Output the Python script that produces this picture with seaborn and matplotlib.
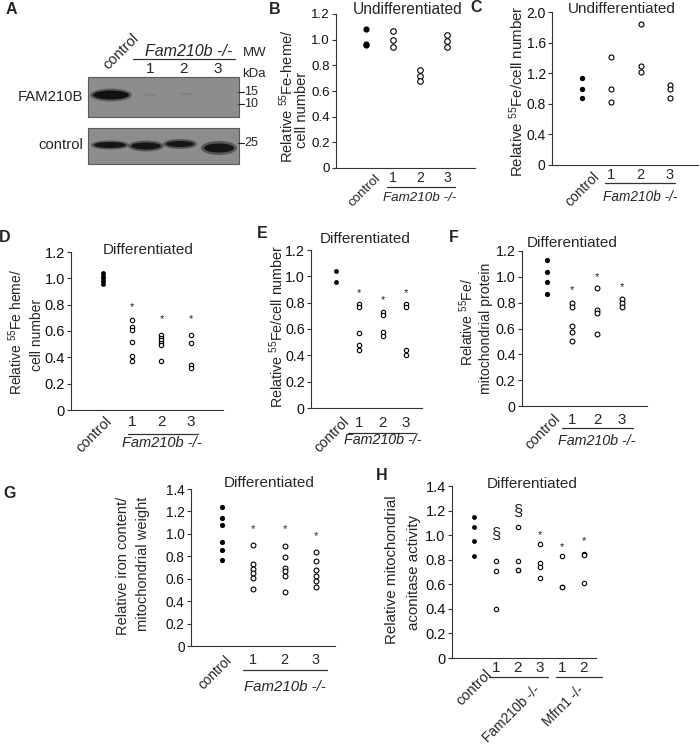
import numpy as np
import pandas as pd
import matplotlib
matplotlib.use("Agg")
import matplotlib.pyplot as plt
import seaborn as sns
from matplotlib.patches import Rectangle, Ellipse

# ---------------- data ----------------
B_ctrl = [1.08, 0.97, 0.96]
B_ko = [[1.07, 1.00, 0.94], [0.76, 0.72, 0.68], [1.04, 0.99, 0.94]]

C_ctrl = [1.14, 0.99, 0.88]
C_ko = [[1.41, 0.99, 0.83], [1.84, 1.30, 1.22], [1.04, 0.99, 0.88]]

D_ctrl = [1.04, 1.02, 1.00, 0.98, 0.96]
D_ko = [[0.68, 0.63, 0.61, 0.52, 0.41, 0.37],
        [0.57, 0.55, 0.53, 0.51, 0.49, 0.37],
        [0.57, 0.51, 0.34, 0.32]]
D_star = [0.78, 0.69, 0.69]

E_ctrl = [1.04, 0.96]
E_ko = [[0.79, 0.77, 0.57, 0.48, 0.44],
        [0.73, 0.71, 0.58, 0.55],
        [0.79, 0.77, 0.44, 0.40]]
E_star = [0.875, 0.82, 0.875]

F_ctrl = [1.13, 1.04, 0.96, 0.87]
F_ko = [[0.80, 0.77, 0.62, 0.57, 0.50],
        [0.91, 0.74, 0.72, 0.56],
        [0.83, 0.80, 0.77]]
F_star = [0.90, 1.00, 0.92]

G_ctrl = [1.24, 1.14, 1.08, 0.93, 0.86, 0.77]
G_ko = [[0.90, 0.73, 0.69, 0.65, 0.61, 0.51],
        [0.89, 0.79, 0.70, 0.67, 0.62, 0.48],
        [0.84, 0.76, 0.68, 0.62, 0.58, 0.53]]
G_star = [1.04, 1.04, 0.98]

H_ctrl = [1.15, 1.07, 0.95, 0.83]
H_ko = [[0.79, 0.71, 0.40],
        [1.07, 0.79, 0.72, 0.72],
        [0.93, 0.77, 0.74, 0.65],
        [0.83, 0.58, 0.58],
        [0.85, 0.84, 0.61]]
H_mark = ["§", "§", "*", "*", "*"]
H_mark_y = [1.01, 1.19, 1.00, 0.90, 0.95]

ko_labels3 = ["1", "2", "3"]
H_labels = ["1", "2", "3", "1", "2"]

# ---------------- style ----------------
sns.set_theme(style="white")
plt.rcParams["font.family"] = ["Liberation Sans", "DejaVu Sans"]
plt.rcParams["mathtext.fontset"] = "custom"
plt.rcParams["mathtext.rm"] = "Liberation Sans"
plt.rcParams["mathtext.it"] = "Liberation Sans:italic"

W, H = 700, 746
fig = plt.figure(figsize=(W / 100, H / 100), dpi=100)
fig.patch.set_facecolor("white")

ov = fig.add_axes([0, 0, 1, 1])
ov.set_xlim(0, W)
ov.set_ylim(H, 0)
ov.axis("off")

AX_C = "#333333"


class Panel:
    def __init__(self, x0, x1, ytop, ybot, xlim, ylim, fs):
        self.x0, self.x1, self.ytop, self.ybot = x0, x1, ytop, ybot
        self.xlim, self.ylim = xlim, ylim
        self.fs = fs
        self.ax = fig.add_axes([x0 / W, 1 - ybot / H, (x1 - x0) / W, (ybot - ytop) / H])

    def px(self, xd):
        a, b = self.xlim
        return self.x0 + (xd - a) / (b - a) * (self.x1 - self.x0)


def fmt(t):
    return "0" if t == 0 else f"{t:.1f}"


def draw_panel(p, ctrl, ko, yticks, s_fill, s_open):
    ax = p.ax
    rows = [(0, v, "control") for v in ctrl]
    for i, grp in enumerate(ko):
        rows += [(i + 1, v, "ko") for v in grp]
    df = pd.DataFrame(rows, columns=["pos", "value", "kind"])
    sns.scatterplot(data=df[df.kind == "control"], x="pos", y="value", ax=ax,
                    color="black", s=s_fill, linewidth=0, legend=False, zorder=3)
    sns.scatterplot(data=df[df.kind == "ko"], x="pos", y="value", ax=ax,
                    color="white", edgecolor="black", s=s_open, linewidth=0.8,
                    legend=False, zorder=3)
    ax.set_xlim(*p.xlim)
    ax.set_ylim(*p.ylim)
    ax.set_yticks(yticks)
    ax.set_yticklabels([fmt(t) for t in yticks])
    ax.set_xticks([])
    ax.set_xlabel("")
    ax.set_ylabel("")
    for s in ["top", "right"]:
        ax.spines[s].set_visible(False)
    for s in ["left", "bottom"]:
        ax.spines[s].set_color(AX_C)
        ax.spines[s].set_linewidth(0.8)
    ax.tick_params(axis="y", direction="out", length=3, width=0.8, color=AX_C,
                   labelsize=p.fs, pad=1.5, left=True, labelcolor="#111111")
    ax.patch.set_alpha(0)


def xlabels(p, labels, num_dy, ctrl_dx, ctrl_dy, line_dy=None, line_ext=None,
            fam_dy=None, fam_fs=10, fam_text="Fam210b -/-"):
    yb = p.ybot
    for i, lab in enumerate(labels):
        ov.text(p.px(i + 1), yb + num_dy, lab, ha="center", va="center", fontsize=p.fs + 0.5)
    ov.text(p.px(0) + ctrl_dx, yb + ctrl_dy, "control", rotation=45, ha="right",
            va="top", rotation_mode="anchor", fontsize=p.fs)
    if line_dy is not None:
        l0, l1 = line_ext
        ov.plot([p.px(1) + l0, p.px(len(labels)) + l1], [yb + line_dy] * 2,
                color=AX_C, lw=0.9)
    if fam_dy is not None:
        xc = (p.px(1) + p.px(len(labels))) / 2
        ov.text(xc, yb + fam_dy, fam_text, ha="center", va="center",
                fontsize=fam_fs, style="italic")


def stars(p, ys, sym=None, fs=8):
    for i, y in enumerate(ys):
        s = "*" if sym is None else sym[i]
        size = fs if s == "*" else 12
        p.ax.text(i + 1, y, s, ha="center", va="center", fontsize=size,
                  color="#222222", zorder=4)


def ylab(x, y, s, fs):
    ov.text(x, y, s, rotation=90, ha="center", va="center", fontsize=fs)


def title(x, y, s, fs=11):
    ov.text(x, y, s, ha="center", va="center", fontsize=fs)


def letter(x, y, s):
    ov.text(x, y, s, fontsize=11.5, fontweight="bold", ha="center", va="center")


# ---------------- Panel A (western blot) ----------------
letter(11, 10, "A")
ov.add_patch(Rectangle((88, 77), 151, 40, facecolor="#8d8d8d", edgecolor="#5a5a5a", lw=0.8))
ov.add_patch(Rectangle((88, 128), 151, 36, facecolor="#8d8d8d", edgecolor="#5a5a5a", lw=0.8))
for (cx, cy, w, h, c, a) in [(111, 95, 42, 13, "#2a2a2a", 0.5), (111, 95, 36, 9, "#111111", 1.0),
                             (150, 95, 14, 3, "#7a7a7a", 0.6), (185, 94, 14, 3, "#7f7f7f", 0.6),
                             (110, 145, 38, 9, "#333333", 0.6), (110, 145, 32, 6, "#151515", 1.0),
                             (146, 146, 36, 11, "#333333", 0.6), (146, 146, 30, 7, "#151515", 1.0),
                             (180, 144, 34, 10, "#333333", 0.6), (180, 144, 28, 6, "#151515", 1.0),
                             (219, 148, 36, 14, "#333333", 0.6), (219, 148, 30, 9, "#151515", 1.0)]:
    ov.add_patch(Ellipse((cx, cy), w, h, facecolor=c, edgecolor="none", alpha=a))
ov.text(121, 52, "control", rotation=45, ha="center", va="center", fontsize=10.5)
ov.text(189, 52, "Fam210b -/-", ha="center", va="center", fontsize=11.5, style="italic")
ov.plot([133, 235], [59, 59], color=AX_C, lw=0.9)
for x, s in zip([150, 184, 218], ko_labels3):
    ov.text(x, 69, s, ha="center", va="center", fontsize=11)
ov.text(50, 97, "FAM210B", ha="center", va="center", fontsize=10.7)
ov.text(61, 145, "control", ha="center", va="center", fontsize=10.7)
ov.text(243, 53, "MW", ha="left", va="center", fontsize=9.5)
ov.text(242, 74, "kDa", ha="left", va="center", fontsize=9.5)
for y, s in [(92, "15"), (104, "10"), (143, "25")]:
    ov.plot([238, 244], [y, y], color="#222222", lw=0.8)
    ov.text(244, y, s, ha="left", va="center", fontsize=9)

# ---------------- Panel B ----------------
pB = Panel(336, 475, 14, 168, (-1.11, 4.04), (0, 1.2), 9.6)
draw_panel(pB, B_ctrl, B_ko, np.round(np.arange(0, 1.21, 0.2), 1), 20, 16)
xlabels(pB, ko_labels3, 10, 8, 4, 19, (-6, 8), 30, fam_fs=9.6)
letter(275, 9, "B")
title(408, 10, "Undifferentiated", 11.2)
ylab(287, 96, "Relative $^{55}$Fe-heme/", 10.5)
ylab(302, 110, "cell number", 10.5)

# ---------------- Panel C ----------------
pC = Panel(552, 698, 12, 165, (-1.02, 3.96), (0, 2.0), 10)
draw_panel(pC, C_ctrl, C_ko, np.round(np.arange(0, 2.01, 0.4), 1), 15, 13)
xlabels(pC, ko_labels3, 10, 10, 5, 18, (-6, 5), 32, fam_fs=9.8)
letter(476, 8, "C")
title(622, 9, "Undifferentiated", 11)
ylab(517, 91, "Relative $^{55}$Fe/cell number", 10.8)

# ---------------- Panel D ----------------
pD = Panel(71, 223, 252, 410, (-1.09, 4.10), (0, 1.2), 10.5)
draw_panel(pD, D_ctrl, D_ko, np.round(np.arange(0, 1.21, 0.2), 1), 12, 10)
stars(pD, D_star)
xlabels(pD, ko_labels3, 12, 2, 4, 24, (-4, 7), 33, fam_fs=10.5)
letter(5, 237, "D")
title(148, 250, "Differentiated", 11)
ylab(16, 332, "Relative $^{55}$Fe heme/", 10)
ylab(37, 335, "cell number", 10)

# ---------------- Panel E ----------------
pE = Panel(311, 422, 250, 408, (-1.07, 3.69), (0, 1.2), 10.3)
draw_panel(pE, E_ctrl, E_ko, np.round(np.arange(0, 1.21, 0.2), 1), 12, 10)
stars(pE, E_star)
xlabels(pE, ko_labels3, 15, 6, 7, 25, (-11, 9), 32, fam_fs=10.3)
letter(262, 234, "E")
title(365, 239, "Differentiated", 11)
ylab(277, 326, "Relative $^{55}$Fe/cell number", 10.3)

# ---------------- Panel F ----------------
pF = Panel(522, 647, 251, 406, (-1.0, 4.0), (0, 1.2), 10.3)
draw_panel(pF, F_ctrl, F_ko, np.round(np.arange(0, 1.21, 0.2), 1), 14, 12)
stars(pF, F_star)
xlabels(pF, ko_labels3, 14, 6, 6, 22, (-10, 11), 35, fam_fs=10.3)
letter(454, 237, "F")
title(572, 243, "Differentiated", 11)
ylab(467, 322, "Relative $^{55}$Fe/", 10.1)
ylab(486, 328, "mitochondrial protein", 10.1)

# ---------------- Panel G ----------------
pG = Panel(191, 335, 489, 646, (-0.99, 3.61), (0, 1.4), 9.8)
draw_panel(pG, G_ctrl, G_ko, np.round(np.arange(0, 1.41, 0.2), 1), 14, 12)
stars(pG, G_star)
xlabels(pG, ko_labels3, 14, 3, 7, 24, (-10, 11), 41, fam_fs=10.8)
letter(10, 494, "G")
title(269, 483, "Differentiated", 11)
ylab(123, 566, "Relative iron content/", 10.5)
ylab(143, 564, "mitochondrial weight", 10.5)

# ---------------- Panel H ----------------
pH = Panel(452, 596, 486, 658, (-1.0, 5.55), (0, 1.4), 10.5)
draw_panel(pH, H_ctrl, H_ko, np.round(np.arange(0, 1.41, 0.2), 1), 12, 10)
stars(pH, H_mark_y, H_mark)
xlabels(pH, H_labels, 10, 11, 9)
ov.plot([pH.px(1) - 7, pH.px(3) + 8], [677, 677], color=AX_C, lw=0.9)
ov.plot([pH.px(4) - 6, pH.px(5) + 18], [677, 677], color=AX_C, lw=0.9)
ov.text(533, 683, "Fam210b -/-", rotation=45, ha="right", va="top",
        rotation_mode="anchor", fontsize=9.8)
ov.text(577, 683, "Mfrn1 -/-", rotation=45, ha="right", va="top",
        rotation_mode="anchor", fontsize=9.8)
letter(382, 476, "H")
title(532, 484, "Differentiated", 11)
ylab(392, 570, "Relative mitochondrial", 10.9)
ylab(414, 572, "aconitase activity", 10.9)

fig.savefig("out.png", dpi=100, facecolor="white")
